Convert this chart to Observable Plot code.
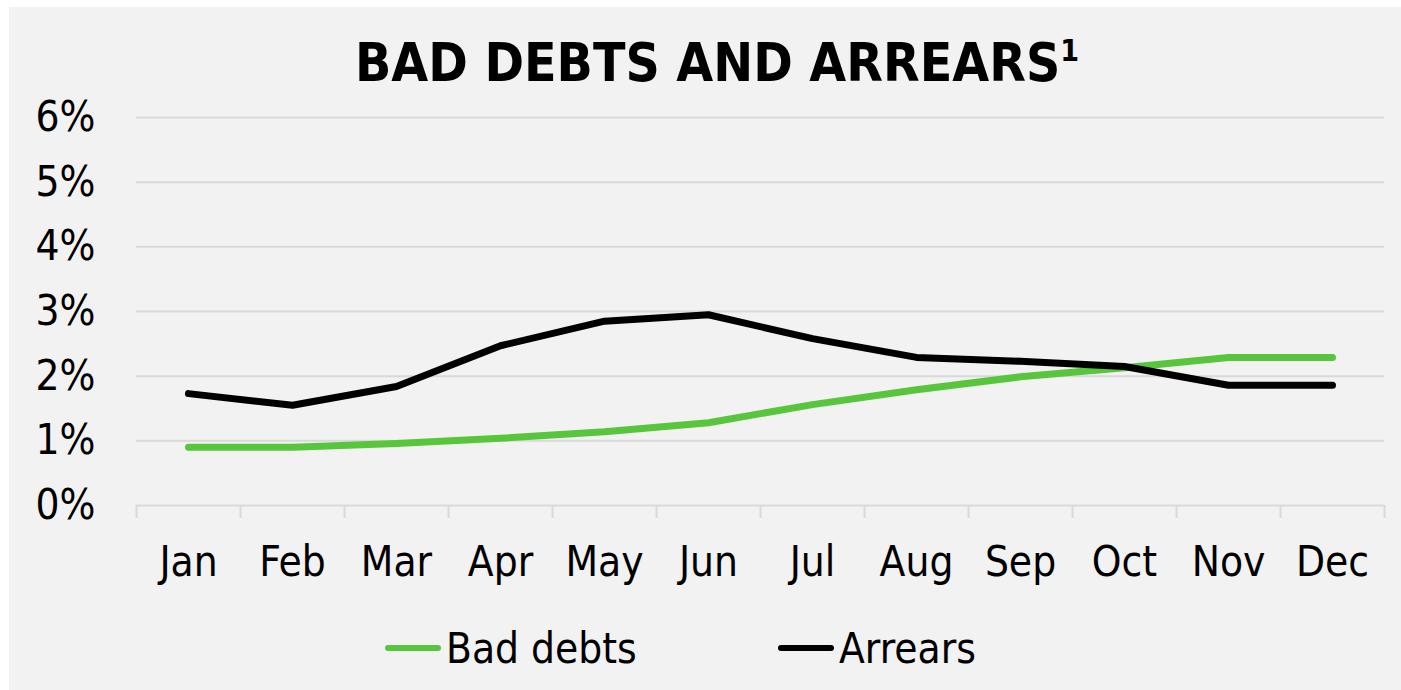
<!DOCTYPE html>
<html>
<head>
<meta charset="utf-8">
<script src="https://cdn.jsdelivr.net/npm/d3@7"></script>
<script src="https://cdn.jsdelivr.net/npm/@observablehq/plot@0.6"></script>
<style>
  html, body { margin: 0; padding: 0; background: #ffffff; }
  #panel {
    position: absolute; left: 9px; top: 7px; width: 1392px; height: 683px;
    background: #f2f2f2; overflow: hidden;
    font-family: "DejaVu Sans Condensed", "DejaVu Sans", sans-serif; font-stretch: condensed;
  }
  #title {
    position: absolute; left: 0; top: 0; width: 1392px; height: 93px;
    text-align: center; font-weight: bold; font-size: 53px; line-height: 1;
    color: #000;
  }
  #title span.t { position: absolute; left: 0; right: 0; top: 29px; padding-left: 24px; }
  #title sup { font-size: 30px; vertical-align: 0; position: relative; top: -20px; }
  #chart { position: absolute; left: 0; top: 73px; }
  .leg { position: absolute; top: 619px; height: 44px; display: flex; align-items: center; font-size: 42px; color: #000; }
  .leg .sw { width: 56px; height: 6px; border-radius: 3px; margin-right: 5px; }
</style>
</head>
<body>
<div id="panel">
  <div id="title"><span class="t">BAD DEBTS AND ARREARS<sup>1</sup></span></div>
  <div id="chart"></div>
  <div id="legend"></div>
</div>
<script>
const months = ["Jan","Feb","Mar","Apr","May","Jun","Jul","Aug","Sep","Oct","Nov","Dec"];
const badDebts = [0.90, 0.90, 0.96, 1.04, 1.14, 1.28, 1.56, 1.79, 1.99, 2.13, 2.29, 2.29];
const arrears  = [1.73, 1.55, 1.84, 2.47, 2.85, 2.95, 2.58, 2.29, 2.23, 2.15, 1.86, 1.86];
const seriesNames = ["Bad debts", "Arrears"];
const seriesColors = ["#58c63c", "#000000"];
const yTicks = [0, 1, 2, 3, 4, 5, 6];

const data = [];
months.forEach((m, i) => {
  data.push({month: m, idx: i + 0.5, value: badDebts[i], series: seriesNames[0]});
  data.push({month: m, idx: i + 0.5, value: arrears[i], series: seriesNames[1]});
});
const boundaries = d3.range(0, months.length + 1);
const centers = months.map((m, i) => i + 0.5);

const font = "'DejaVu Sans Condensed', 'DejaVu Sans', sans-serif";

const plot = Plot.plot({
  width: 1392,
  height: 530,
  marginLeft: 127,
  marginRight: 17,
  marginTop: 37,
  marginBottom: 105,
  style: {background: "transparent", fontFamily: font, fontSize: "42px", fontStretch: "condensed", color: "#000"},
  x: {type: "linear", domain: [0, months.length]},
  y: {domain: [0, 6]},
  color: {domain: seriesNames, range: seriesColors},
  marks: [
    Plot.gridY(yTicks, {stroke: "#d9d9d9", strokeOpacity: 1, strokeWidth: 2}),
    Plot.axisY(yTicks, {tickSize: 0, tickPadding: 41, tickFormat: d => d + "%", label: null, fill: "#000", fontSize: 42}),
    Plot.axisX(boundaries, {tickSize: 13, stroke: "#d9d9d9", strokeWidth: 2, strokeOpacity: 1, tickFormat: () => "", label: null}),
    Plot.axisX(centers, {tickSize: 0, tickPadding: 41, tickFormat: d => months[Math.floor(d)], label: null, fill: "#000", fontSize: 42}),
    Plot.line(data, {x: "idx", y: "value", stroke: "series", z: "series", strokeWidth: 7, strokeLinecap: "round", strokeLinejoin: "round", curve: "linear"})
  ]
});
document.getElementById("chart").appendChild(plot);

const legend = document.getElementById("legend");
const legPos = [376, 769];
seriesNames.forEach((name, i) => {
  const item = document.createElement("div");
  item.className = "leg";
  item.style.left = legPos[i] + "px";
  const sw = document.createElement("div");
  sw.className = "sw";
  sw.style.background = seriesColors[i];
  const t = document.createElement("span");
  t.textContent = name;
  item.appendChild(sw);
  item.appendChild(t);
  legend.appendChild(item);
});
</script>
</body>
</html>
